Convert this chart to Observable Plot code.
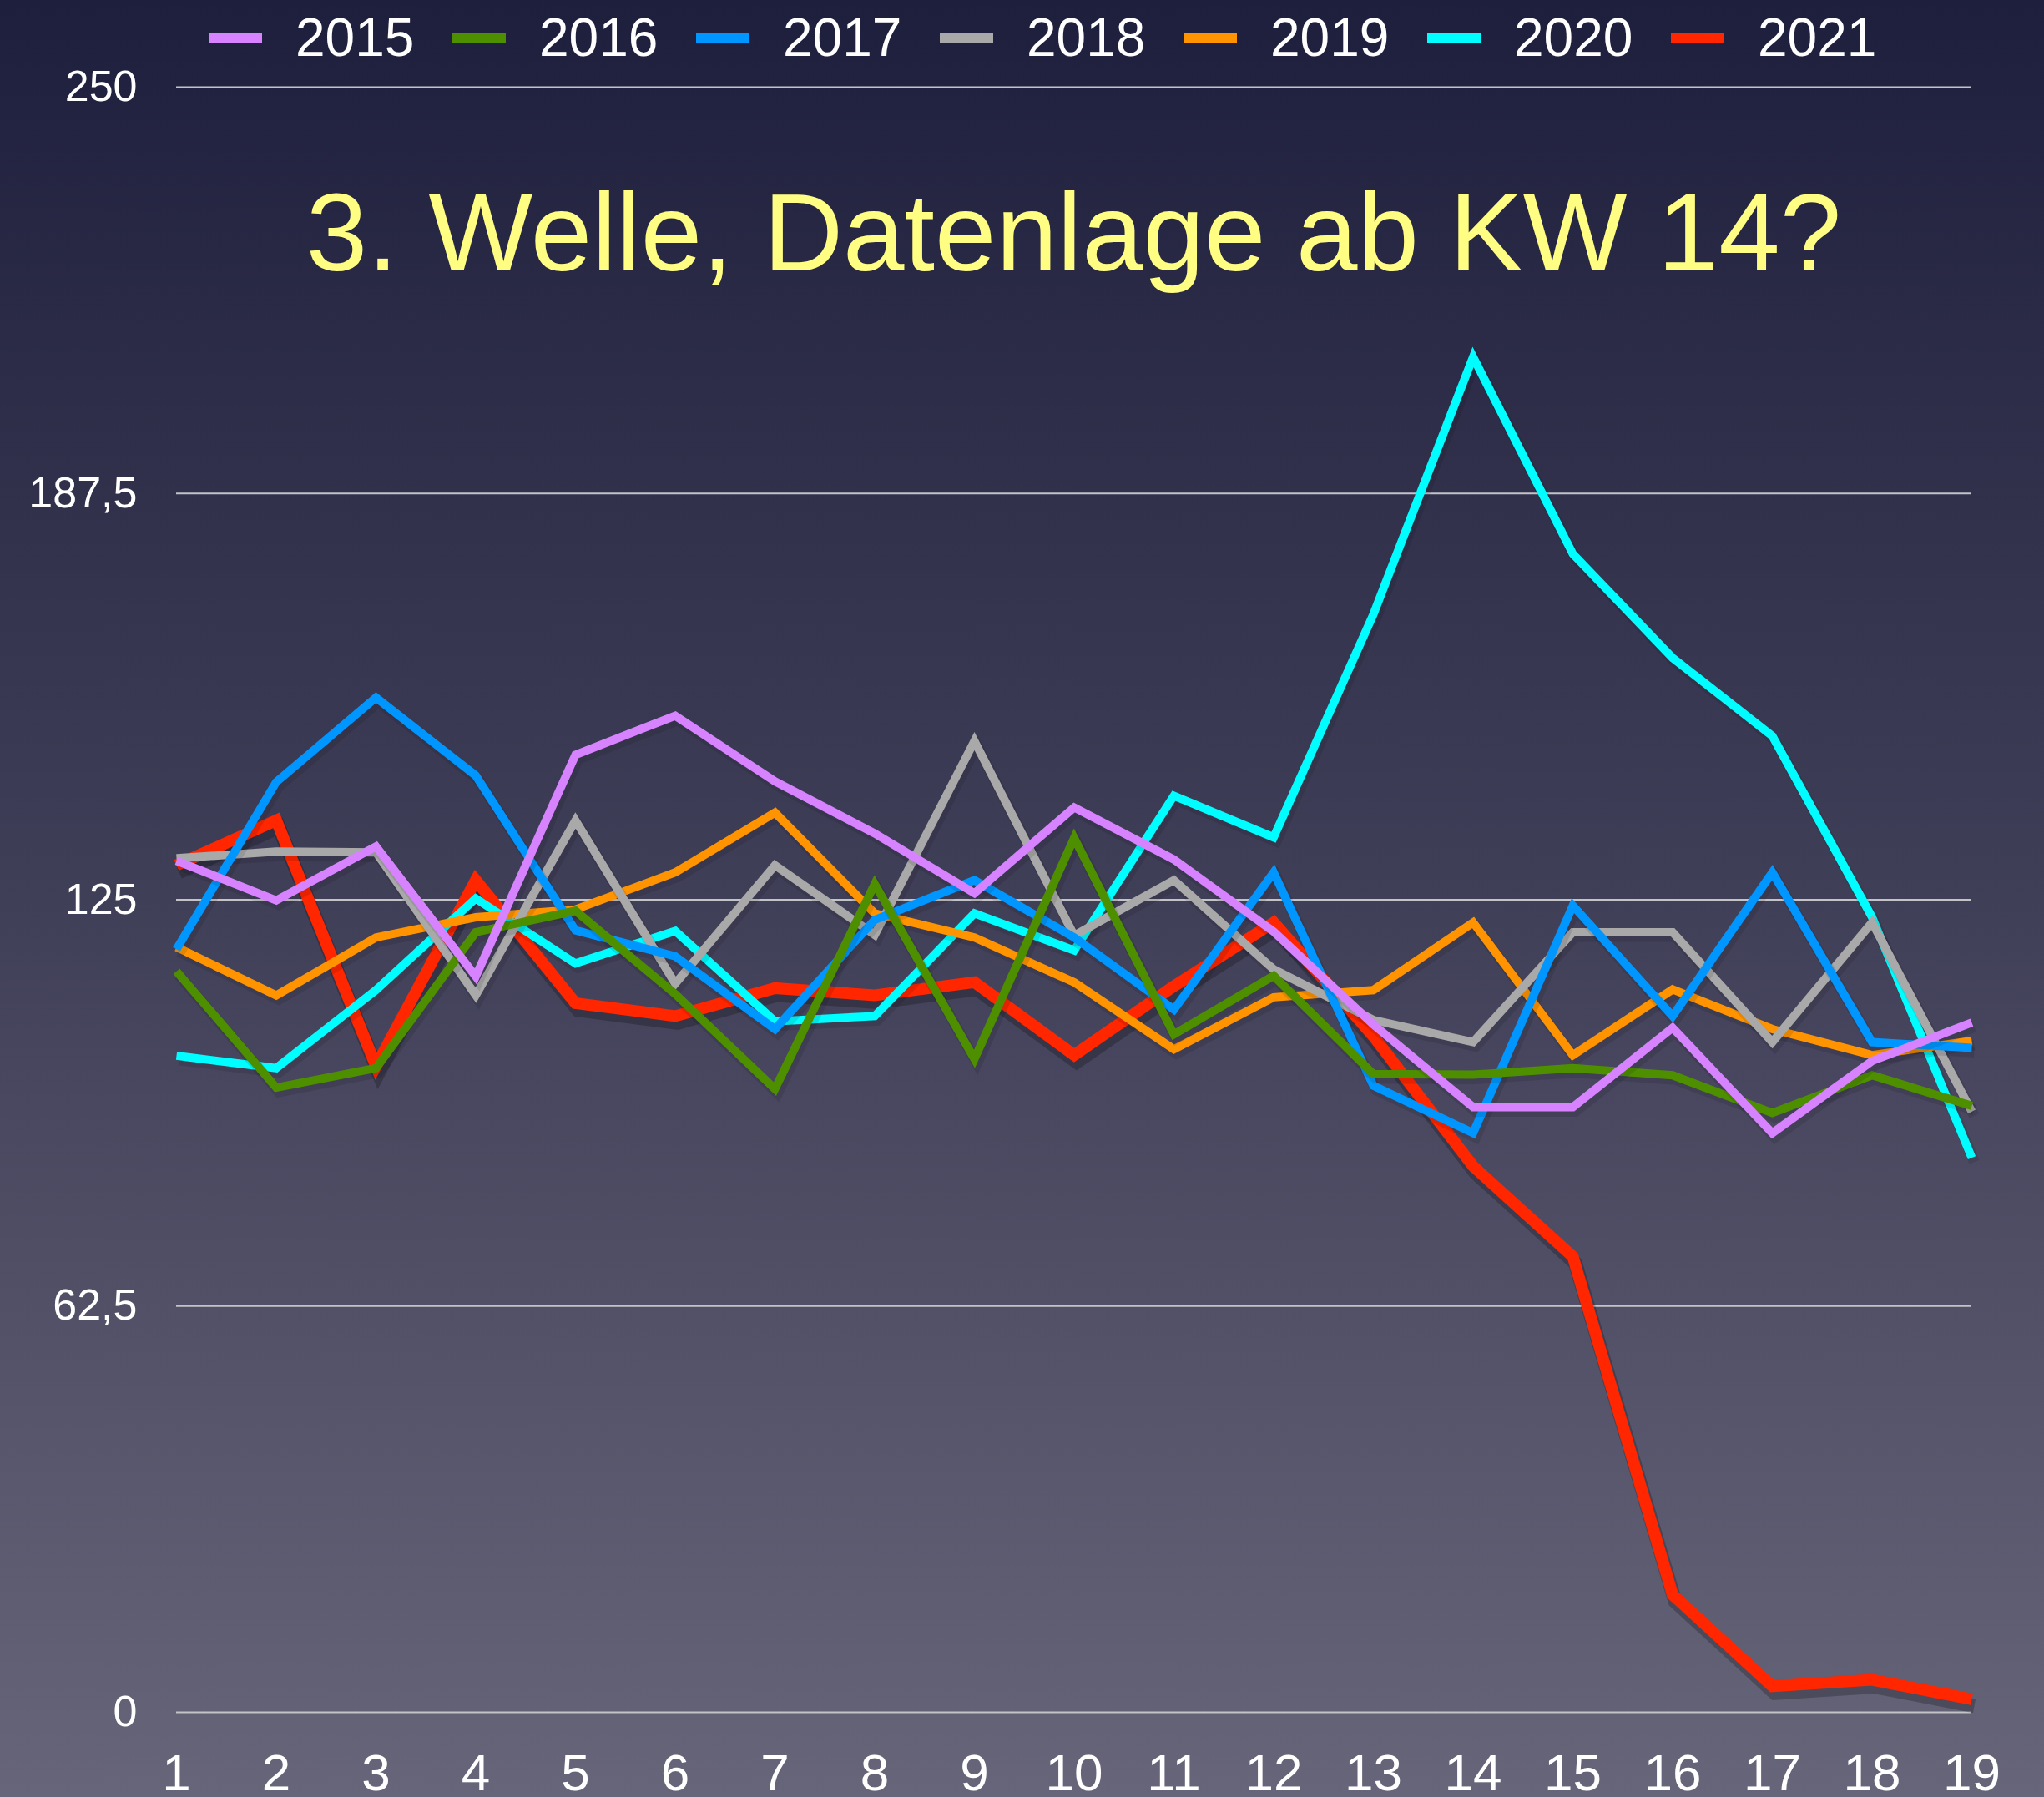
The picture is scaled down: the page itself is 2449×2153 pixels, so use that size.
<!DOCTYPE html>
<html>
<head>
<meta charset="utf-8">
<script src="https://cdn.jsdelivr.net/npm/d3@7"></script>
<script src="https://cdn.jsdelivr.net/npm/@observablehq/plot@0.6"></script>
<style>
  html, body { margin: 0; padding: 0; }
  body {
    width: 2449px; height: 2153px; overflow: hidden;
    background: linear-gradient(to bottom, #1e1f3d 0%, #403f58 50%, #666579 100%);
    font-family: "Liberation Sans", Arial, Helvetica, sans-serif;
  }
  #wrap { position: relative; width: 2449px; height: 2153px; }
  #legend {
    height: 80px; box-sizing: border-box; padding-top: 10px; padding-left: 250px;
    display: flex; align-items: flex-start;
  }
  .item { width: 292px; display: flex; align-items: center; height: 70px; }
  .sw { width: 64px; height: 11px; margin-right: 40px; flex: none; }
  .lab { color: #ffffff; font-size: 64px; line-height: 70px; white-space: nowrap; }
  #title {
    position: absolute; top: 213px; left: 211px; width: 2151px; text-align: center;
    color: #fffd82; font-size: 132px; line-height: 132px; white-space: nowrap;
  }
  #chart svg { display: block; overflow: visible; }
</style>
</head>
<body>
<div id="wrap">
  <div id="legend"></div>
  <div id="chart"></div>
  <div id="title">3. Welle, Datenlage ab KW 14?</div>
</div>
<script>
// ---- data ----
const weeks = [1,2,3,4,5,6,7,8,9,10,11,12,13,14,15,16,17,18,19];
const years = ["2015","2016","2017","2018","2019","2020","2021"];
const colors = ["#d783ff","#4e8f00","#0096ff","#a9a9a9","#ff9300","#00fdff","#ff2600"];

const s2015 = [131.0,124.9,133.2,113.2,147.3,153.3,143.2,135.2,126.0,139.2,131.2,120.1,105.8,93.1,93.1,105.3,89.1,100.2,106.1];
const s2016 = [114.0,96.1,99.1,120.0,123.3,110.5,95.9,127.4,100.5,134.5,104.3,113.3,98.2,98.1,99.1,98.0,92.2,98.0,93.3];
const s2017 = [117.4,143.1,156.1,144.1,120.3,116.3,105.1,121.9,128.0,119.2,108.1,129.2,96.4,89.1,124.1,107.1,129.2,103.1,102.2];
const s2018 = [131.4,132.4,132.3,110.3,137.2,112.1,130.3,119.6,149.4,119.5,128.0,114.3,106.5,103.1,120.0,120.0,103.1,121.5,92.4];
const s2019 = [117.7,110.3,119.2,122.3,123.5,129.2,138.4,122.9,119.2,112.3,102.0,110.0,111.1,121.5,101.1,111.2,105.1,101.1,103.3];
const s2020 = [101.0,99.1,111.1,125.2,115.2,120.2,106.3,107.1,122.9,117.2,141.0,134.6,168.9,208.5,178.2,162.2,150.2,122.3,85.3];
const s2021 = [130.3,137.2,99.4,128.0,109.1,107.1,111.4,110.3,112.3,101.1,111.7,121.5,104.0,84.0,70.1,18.1,4.0,5.0,2.0];
const series = [s2015, s2016, s2017, s2018, s2019, s2020, s2021];

const yTicks = [0, 62.5, 125, 187.5, 250];
const yLabels = ["0", "62,5", "125", "187,5", "250"];

// ---- legend ----
const legend = document.getElementById("legend");
years.forEach((yr, j) => {
  const it = document.createElement("div"); it.className = "item";
  const sw = document.createElement("div"); sw.className = "sw"; sw.style.background = colors[j];
  const lb = document.createElement("div"); lb.className = "lab"; lb.textContent = yr;
  it.appendChild(sw); it.appendChild(lb); legend.appendChild(it);
});

// ---- table ----
const rows = years.flatMap((yr, j) => weeks.map((w, i) => ({year: yr, week: w, value: series[j][i]})));

// draw 2021 at the bottom, 2015 on top; each line with a soft offset shadow
const order = [6,5,4,3,2,1,0];
const lineMarks = order.flatMap(j => {
  const data = rows.filter(d => d.year === years[j]);
  const w = j === 6 ? 14 : 10;
  return [
    Plot.line(data, {
      x: "week", y: "value", stroke: "#000", strokeOpacity: j === 6 ? 0.22 : 0.1,
      strokeWidth: w + 3, dx: 3, dy: j === 6 ? 8 : 5,
      strokeLinejoin: "miter", strokeLinecap: "butt", strokeMiterlimit: 6
    }),
    Plot.line(data, {
      x: "week", y: "value", stroke: colors[j], strokeWidth: w,
      strokeLinejoin: "miter", strokeLinecap: "butt", strokeMiterlimit: 6
    })
  ];
});

const chart = Plot.plot({
  width: 2449,
  height: 2073,
  marginTop: 24,
  marginBottom: 102,
  marginLeft: 211,
  marginRight: 87,
  style: {background: "transparent", color: "white", fontFamily: "'Liberation Sans', Arial, sans-serif", overflow: "visible"},
  x: {domain: [1, 19], label: null},
  y: {domain: [0, 250], label: null},
  marks: [
    Plot.gridY(yTicks, {stroke: "#c4c4c8", strokeOpacity: 1, strokeWidth: 2}),
    Plot.axisY(yTicks, {tickSize: 0, tickPadding: 47, fontSize: 52, fill: "white", label: null,
      tickFormat: d => yLabels[yTicks.indexOf(d)]}),
    Plot.axisX(weeks, {tickSize: 0, tickPadding: 49, fontSize: 62, fill: "white", label: null,
      tickFormat: d => String(d)}),
    ...lineMarks
  ]
});
document.getElementById("chart").appendChild(chart);
</script>
</body>
</html>
